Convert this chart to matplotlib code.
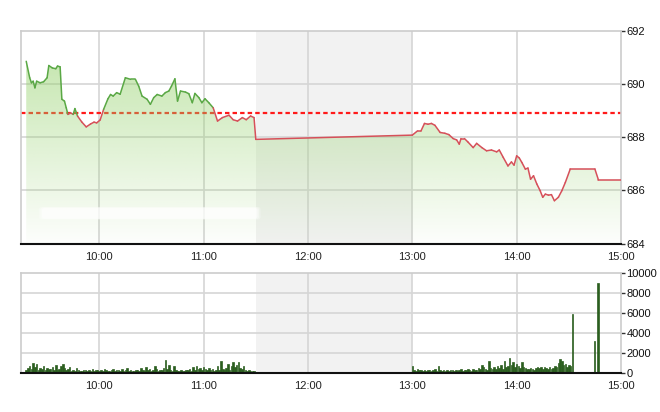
import numpy as np
import matplotlib
matplotlib.use("Agg")
import matplotlib.pyplot as plt
from matplotlib.collections import LineCollection
from matplotlib.patches import FancyBboxPatch

plt.rcParams['font.family'] = ['Liberation Sans', 'DejaVu Sans']

# ---------------- data ----------------
price_times = ["9:18", "9:20", "9:21", "9:22", "9:23", "9:24", "9:26", "9:28", "9:30", "9:31",
               "9:33", "9:35", "9:36", "9:37.5", "9:38.5", "9:40", "9:41", "9:42", "9:43.5", "9:45",
               "9:46", "9:47.5", "9:50", "9:52.5", "9:55", "9:57", "9:58.5", "10:00.5", "10:02.5", "10:05",
               "10:06.5", "10:08", "10:10", "10:12", "10:15", "10:18", "10:20.8", "10:22.7", "10:24.6", "10:27.5",
               "10:29.4", "10:31.3", "10:33.3", "10:36", "10:38", "10:40", "10:41.5", "10:43.5", "10:45", "10:46.7",
               "10:49.6", "10:51.5", "10:53.5", "10:55", "10:57.3", "10:59", "11:00.8", "11:03", "11:05.5", "11:08",
               "11:10.8", "11:14.6", "11:17", "11:19.5", "11:22.3", "11:24.5", "11:27", "11:29", "11:30",
               "13:00", "13:03", "13:05", "13:07", "13:09", "13:11", "13:13", "13:16", "13:18.7", "13:21",
               "13:23.5", "13:25.5", "13:27", "13:28", "13:30", "13:32", "13:35", "13:37", "13:40", "13:42.7",
               "13:45.5", "13:48.5", "13:50", "13:52.3", "13:55", "13:57", "13:58.5", "14:00", "14:01.5", "14:03",
               "14:05", "14:06.5", "14:08", "14:09.7", "14:11.6", "14:13.5", "14:15", "14:16.5", "14:18.3", "14:20",
               "14:21.7", "14:24", "14:26", "14:28", "14:30.8", "14:45", "14:47", "15:00"]
price_values = [690.86, 690.24, 690.05, 690.11, 689.86, 690.11, 690.05, 690.09, 690.24, 690.70,
                690.61, 690.58, 690.68, 690.65, 689.43, 689.36, 689.11, 688.86, 688.92, 688.86,
                689.08, 688.80, 688.57, 688.39, 688.50, 688.57, 688.54, 688.65, 689.05, 689.45,
                689.61, 689.55, 689.68, 689.62, 690.24, 690.18, 690.18, 689.92, 689.55, 689.43,
                689.24, 689.49, 689.61, 689.55, 689.68, 689.74, 689.92, 690.20, 689.36, 689.74,
                689.70, 689.64, 689.30, 689.65, 689.49, 689.30, 689.45, 689.30, 689.11, 688.61,
                688.74, 688.83, 688.66, 688.61, 688.74, 688.66, 688.80, 688.74, 687.92,
                688.08, 688.24, 688.24, 688.52, 688.49, 688.52, 688.45, 688.18, 688.15, 688.10,
                687.95, 687.90, 687.74, 687.95, 687.95, 687.82, 687.61, 687.77, 687.61, 687.49,
                687.52, 687.45, 687.52, 687.24, 686.92, 687.07, 686.95, 687.30, 687.22, 687.05,
                686.80, 686.84, 686.42, 686.55, 686.24, 685.99, 685.74, 685.86, 685.82, 685.84,
                685.61, 685.74, 685.99, 686.30, 686.80, 686.80, 686.40, 686.40]
reference_price = 688.90

vol_morning_start = "9:18"
vol_morning = [300, 500, 700, 400, 1000, 600, 900, 300, 500, 400, 700, 350,
               500, 400, 450, 600, 300, 800, 350, 400, 700, 900, 500, 300,
               400, 600, 250, 300, 200, 500, 300, 250, 200, 350, 300, 250,
               300, 200, 400, 250, 300, 350, 200, 300, 250, 400, 300, 200,
               250, 300, 400, 200, 350, 300, 250, 400, 200, 300, 500, 250,
               300, 200, 250, 300, 350, 200, 500, 300, 250, 600, 300, 400,
               250, 300, 700, 400, 250, 300, 350, 500, 1300, 400, 800, 300,
               250, 700, 300, 200, 250, 300, 200, 250, 350, 300, 400, 250,
               600, 300, 700, 400, 500, 300, 600, 400, 350, 500, 300, 400,
               250, 300, 700, 300, 1200, 400, 350, 500, 900, 300, 700, 1100,
               600, 800, 1100, 500, 400, 700, 300, 250, 300, 200, 250, 200]
vol_afternoon_start = "13:00"
vol_afternoon = [750, 300, 250, 400, 300, 350, 250, 300, 200, 300, 350, 250,
                 300, 400, 250, 700, 300, 250, 350, 200, 300, 250, 300, 350,
                 250, 300, 200, 300, 400, 250, 350, 300, 450, 300, 250, 400,
                 350, 300, 500, 400, 850, 600, 400, 350, 1250, 500, 400, 600,
                 450, 700, 500, 800, 400, 1250, 600, 700, 1500, 800, 1150, 600,
                 900, 700, 500, 1100, 600, 500, 400, 450, 500, 400, 350, 500,
                 600, 500, 650, 450, 600, 500, 400, 600, 450, 500, 700, 600,
                 1000, 1400, 1200, 800, 900, 600, 800, 700, 5900]
vol_late_times = ["14:40.5", "14:44.8", "14:46.8", "14:50", "14:53", "14:56"]
vol_late_values = [100, 3200, 9000, 120, 100, 100]

hour_ticks = ["10:00", "11:00", "12:00", "13:00", "14:00", "15:00"]
price_ticks = [684, 686, 688, 690, 692]
vol_ticks = [0, 2000, 4000, 6000, 8000, 10000]
lunch_break = ["11:30", "13:00"]
session = ["9:15", "15:00"]


def tmin(s):
    h, m = s.split(":")
    return int(h) * 60 + float(m)


px = np.array([tmin(s) for s in price_times])
py = np.array(price_values)
vm_x = tmin(vol_morning_start) + np.arange(len(vol_morning))
va_x = tmin(vol_afternoon_start) + np.arange(len(vol_afternoon))
vl_x = np.array([tmin(s) for s in vol_late_times])
vx = np.concatenate([vm_x, va_x, vl_x])
vy = np.concatenate([vol_morning, vol_afternoon, vol_late_values])

xmin, xmax = tmin(session[0]), tmin(session[1])
hx = [tmin(s) for s in hour_ticks]

# ---------------- figure ----------------
fig = plt.figure(figsize=(6.6, 4.12), dpi=100)
ax = fig.add_axes([21 / 660, 1 - 243.5 / 412, 600 / 660, 212.5 / 412])
axv = fig.add_axes([21 / 660, 1 - 373 / 412, 600 / 660, 100 / 412])

grid_c = '#d6d6d6'
band_c = '#f2f2f2'

for a, ylim, yt in [(ax, (684, 692), price_ticks), (axv, (0, 10000), vol_ticks)]:
    a.set_xlim(xmin, xmax)
    a.set_ylim(*ylim)
    a.axvspan(tmin(lunch_break[0]), tmin(lunch_break[1]), color=band_c, zorder=0, lw=0)
    for x in hx[:-1]:
        a.axvline(x, color=grid_c, lw=1.2, zorder=0.5)
    for y in yt[1:-1]:
        a.axhline(y, color=grid_c, lw=1.2, zorder=0.5)
    a.yaxis.tick_right()
    a.set_yticks(yt)
    a.set_yticklabels([str(v) for v in yt])
    a.tick_params(axis='y', direction='out', length=3, width=1, color='#333333',
                  labelsize=8, pad=1, labelcolor='#111111')
    a.set_xticks(hx)
    a.set_xticklabels(hour_ticks)
    a.tick_params(axis='x', length=0, labelsize=8, pad=6, labelcolor='#222222')
    for s in ['top', 'left', 'right']:
        a.spines[s].set_color('#cccccc')
        a.spines[s].set_linewidth(1.2)
    a.spines['bottom'].set_color('#111111')
    a.spines['bottom'].set_linewidth(1.5)
    a.spines['bottom'].set_zorder(6)

# reference line (under fill)
ax.axhline(reference_price, color='#ff1a1a', lw=1.6, ls=(0, (2, 1.4)), zorder=1)

# gradient fill under price line
poly = ax.fill_between(px, py, 684, facecolor='none', edgecolor='none', zorder=2)
ny = 256
alpha = np.linspace(0.02, 0.62, ny)
grad = np.zeros((ny, 2, 4))
grad[..., 0] = 150 / 255
grad[..., 1] = 210 / 255
grad[..., 2] = 110 / 255
grad[..., 3] = alpha[:, None]
im = ax.imshow(grad, extent=[xmin, xmax, 684, 692], origin='lower', aspect='auto',
               interpolation='bilinear', zorder=2)
im.set_clip_path(poly.get_paths()[0], transform=ax.transData)
ax.set_xlim(xmin, xmax)
ax.set_ylim(684, 692)

# faint white watermark blur
for pad, al in [(0.6, 0.25), (0.3, 0.35), (0.0, 0.5)]:
    wm = FancyBboxPatch((567 - pad * 3, 684.93 - pad * 0.05), 124 + pad * 6, 0.42 + pad * 0.1,
                        boxstyle="round,pad=0.0,rounding_size=2", fc='white', ec='none',
                        alpha=al, zorder=3, mutation_aspect=0.05)
    ax.add_patch(wm)

# price line coloured by position vs reference
pts = np.column_stack([px, py])
segs = np.stack([pts[:-1], pts[1:]], axis=1)
mid = (py[:-1] + py[1:]) / 2
cols = np.where(mid >= reference_price, '#5aa845', '#d6505a')
lc = LineCollection(segs, colors=cols, linewidths=1.1, zorder=4, capstyle='round', joinstyle='round')
ax.add_collection(lc)

# volume bars
axv.bar(vx, vy, width=0.9, color='#2b5e1f', edgecolor='#2b5e1f', zorder=3, linewidth=0.5)

fig.savefig("out.png", dpi=100)
